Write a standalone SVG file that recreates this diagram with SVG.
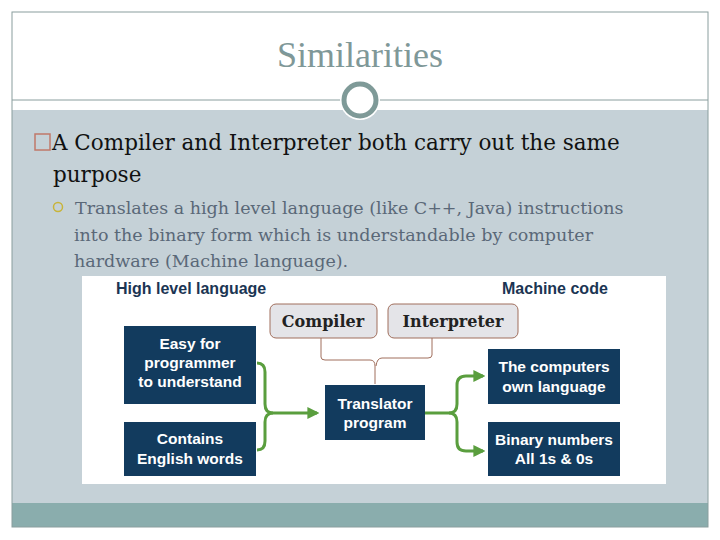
<svg xmlns="http://www.w3.org/2000/svg" width="720" height="540" viewBox="0 0 720 540">
<defs>
<style>
.nb{fill:#123b5e}
.wt{font-family:"Liberation Sans",Arial,sans-serif;font-weight:bold;font-size:15.5px;fill:#ffffff;text-anchor:middle}
.hd{font-family:"Liberation Sans",Arial,sans-serif;font-weight:bold;font-size:16px;fill:#1b3553}
.lb{fill:#e4e4e8;stroke:#a06e5c;stroke-width:1}
.lt{font-family:"DejaVu Serif","Liberation Serif",serif;font-weight:bold;font-size:16px;fill:#222222;text-anchor:middle}
.g{fill:none;stroke:#5a9e3e;stroke-width:3}
.br{fill:none;stroke:#a06e5c;stroke-width:1}
</style>
<marker id="ah" viewBox="0 0 10 10" refX="8" refY="5" markerWidth="4" markerHeight="4" orient="auto" markerUnits="strokeWidth">
<path d="M0,0 L10,5 L0,10 z" fill="#5a9e3e"/>
</marker>
</defs>
<rect x="0" y="0" width="720" height="540" fill="#ffffff"/>
<rect x="12" y="110" width="696" height="417" fill="#c5d1d7"/>
<rect x="12" y="503" width="696" height="24" fill="#8aadad"/>
<rect x="12" y="12" width="696" height="515" fill="none" stroke="#8a9e9e" stroke-width="1"/>
<line x1="12" y1="100" x2="708" y2="100" stroke="#8a9e9e" stroke-width="1"/>
<circle cx="360" cy="100" r="20" fill="#ffffff"/>
<circle cx="360" cy="100" r="16" fill="#ffffff" stroke="#7f9a98" stroke-width="5"/>
<text x="360" y="67" font-family="Liberation Serif,serif" font-size="36" fill="#7f9898" text-anchor="middle">Similarities</text>
<rect x="35" y="134" width="15" height="16" fill="none" stroke="#c0786a" stroke-width="1.5"/>
<text font-family="DejaVu Serif,serif" font-size="21.5" fill="#111111"><tspan x="52" y="150">A Compiler and Interpreter both carry out the same</tspan><tspan x="53" y="182">purpose</tspan></text>
<circle cx="58" cy="207" r="4.5" fill="none" stroke="#c8b43a" stroke-width="1.5"/>
<text font-family="DejaVu Serif,serif" font-size="17.5" fill="#5a6878"><tspan x="75" y="214">Translates a high level language (like C++, Java) instructions</tspan><tspan x="74" y="241">into the binary form which is understandable by computer</tspan><tspan x="74" y="267">hardware (Machine language).</tspan></text>
<rect x="82" y="276" width="584" height="208" fill="#ffffff"/>
<text class="hd" x="116" y="294">High level language</text>
<text class="hd" x="502" y="294">Machine code</text>
<g id="connectors">
<path class="g" d="M257,363 Q265,363 265,372 L265,404 Q265,413 273,413 L317,413" marker-end="url(#ah)"/>
<path class="g" d="M257,450 Q265,450 265,441 L265,422 Q265,413 273,413"/>
<path class="g" d="M425,413 L449,413 Q457,413 457,404 L457,385 Q457,376 466,376 L483,376" marker-end="url(#ah)"/>
<path class="g" d="M449,413 Q457,413 457,422 L457,442 Q457,451 466,451 L483,451" marker-end="url(#ah)"/>
<path class="br" d="M321,338 L321,357 Q321,360 325,360 L370,360 Q375,360 375,366 L375,384"/>
<path class="br" d="M432,338 L432,355 Q432,358 428,358 L382,358 Q377,358 376,366"/>
</g>
<g id="compiler"><rect class="lb" x="270" y="304" width="107" height="34" rx="6"/><text class="lt" x="323" y="327">Compiler</text></g>
<g id="interpreter"><rect class="lb" x="388" y="304" width="130" height="34" rx="6"/><text class="lt" x="453" y="327">Interpreter</text></g>
<g id="easy"><rect class="nb" x="124" y="326" width="132" height="78"/><text class="wt"><tspan x="190" y="349">Easy for</tspan><tspan x="190" y="368">programmer</tspan><tspan x="190" y="387">to understand</tspan></text></g>
<g id="contains"><rect class="nb" x="124" y="422" width="132" height="54"/><text class="wt"><tspan x="190" y="444">Contains</tspan><tspan x="190" y="464">English words</tspan></text></g>
<g id="translator"><rect class="nb" x="325" y="385" width="100" height="55"/><text class="wt"><tspan x="375" y="409">Translator</tspan><tspan x="375" y="428">program</tspan></text></g>
<g id="computers"><rect class="nb" x="488" y="349" width="132" height="55"/><text class="wt"><tspan x="554" y="372">The computers</tspan><tspan x="554" y="392">own language</tspan></text></g>
<g id="binary"><rect class="nb" x="488" y="422" width="132" height="54"/><text class="wt"><tspan x="554" y="445">Binary numbers</tspan><tspan x="554" y="464">All 1s &amp; 0s</tspan></text></g>
</svg>
